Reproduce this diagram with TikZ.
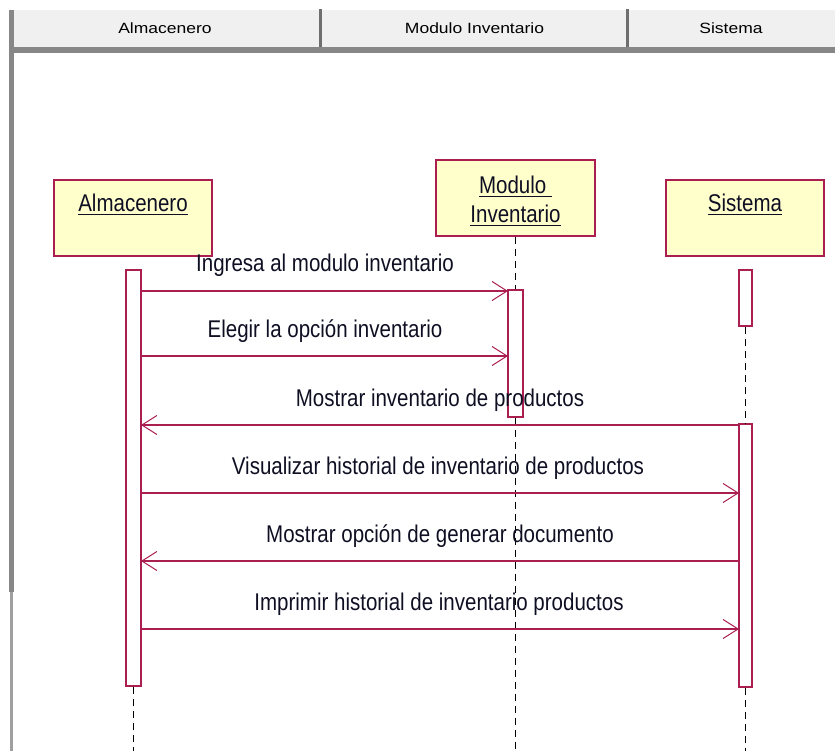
\documentclass[tikz,border=0pt]{standalone}
\usepackage{fontspec}
\setmainfont{Liberation Sans}
\usepackage{graphicx}
\usetikzlibrary{arrows.meta}
\definecolor{umlred}{RGB}{170,30,80}
\definecolor{umlfill}{RGB}{255,255,204}
\definecolor{txt}{RGB}{15,15,35}
\definecolor{hdrfill}{RGB}{240,240,240}
\definecolor{hdrline}{RGB}{135,135,135}
\definecolor{hdrdiv}{RGB}{110,110,110}
\newcommand\talltext[1]{\scalebox{1}[1.18]{#1}}
\newcommand\flattext[1]{\scalebox{1}[0.85]{#1}}
\begin{document}
\begin{tikzpicture}[x=1pt,y=-1pt,
  actor/.style={draw=umlred, line width=1.6pt, fill=umlfill, inner sep=0pt, minimum width=158pt, minimum height=76pt},
  actbar/.style={draw=umlred, line width=1.6pt, fill=white, inner sep=0pt, minimum width=14pt},
  life/.style={black, line width=1.8pt, dash pattern=on 7pt off 5pt},
  msg/.style={umlred, line width=1.4pt, -{Straight Barb[length=15pt,width=19pt,line width=1pt]}},
  lbl/.style={anchor=base, text=txt, font=\fontsize{20.5}{24}\selectfont, inner sep=0pt},
  hdr/.style={anchor=base, text=black, font=\fontsize{17.5}{20}\selectfont, inner sep=0pt}]
\useasboundingbox[fill=white] (0,0) rectangle (835,751);

% header / frame
\fill[hdrfill] (10,10) rectangle (835,47);
\fill[hdrline] (10,47) rectangle (835,53);
\fill[hdrline] (9,10) rectangle (14,592);
\fill[hdrline!80] (10,592) rectangle (13,751);
\fill[hdrdiv] (319,9) rectangle (322,47);
\fill[hdrdiv] (626,9) rectangle (629,47);
\node[hdr] (h1) at (165,34) {\flattext{Almacenero}};
\node[hdr] (h2) at (474.5,34) {\flattext{Modulo Inventario}};
\node[hdr] (h3) at (731,34) {\flattext{Sistema}};

% actors
\node[actor] (almA) at (133,218) {};
\node[actor, minimum width=159pt] (modA) at (515.5,198) {};
\node[actor] (sisA) at (745,218) {};
\node[lbl] (almT) at (133,212) {\talltext{\underline{Almacenero}}};
\node[lbl] (modT1) at (515.5,194) {\talltext{\underline{Modulo~}}};
\node[lbl] (modT2) at (515.5,223) {\talltext{\underline{Inventario}}};
\node[lbl] (sisT) at (745,212) {\talltext{\underline{Sistema}}};

% lifeline ends
\coordinate (almEnd) at (133.5,751);
\coordinate (modEnd) at (515.5,751);
\coordinate (sisEnd) at (745.5,751);

% activation bars
\node[actbar, minimum width=15pt, minimum height=416pt] (almB) at (133.5,478) {};
\node[actbar, minimum width=15pt, minimum height=127pt] (modB) at (515.5,353.5) {};
\node[actbar, minimum width=13pt, minimum height=56pt] (sisB1) at (745.5,298) {};
\node[actbar, minimum width=13pt, minimum height=263pt] (sisB2) at (745.5,555.5) {};

% lifelines
\draw[life] (almB.south) -- (almEnd);
\draw[life] (modA.south) -- (modB.north);
\draw[life] (modB.south) -- (modEnd);
\draw[life] (sisB1.south) -- (sisB2.north);
\draw[life] (sisB2.south) -- (sisEnd);

% message anchor points
\coordinate (m1a) at (141,291);  \coordinate (m1b) at (508,291);
\coordinate (m2a) at (141,356);  \coordinate (m2b) at (508,356);
\coordinate (m3a) at (739,425);  \coordinate (m3b) at (141,425);
\coordinate (m4a) at (141,493);  \coordinate (m4b) at (739,493);
\coordinate (m5a) at (739,561);  \coordinate (m5b) at (141,561);
\coordinate (m6a) at (141,629);  \coordinate (m6b) at (739,629);

\draw[msg] (m1a) -- (m1b);
\draw[msg] (m2a) -- (m2b);
\draw[msg] (m3a) -- (m3b);
\draw[msg] (m4a) -- (m4b);
\draw[msg] (m5a) -- (m5b);
\draw[msg] (m6a) -- (m6b);

\node[lbl] (l1) at (325,272) {\talltext{Ingresa al modulo inventario}};
\node[lbl] (l2) at (325,337) {\talltext{Elegir la opción inventario}};
\node[lbl] (l3) at (440,406) {\talltext{Mostrar inventario de productos}};
\node[lbl] (l4) at (438,474) {\talltext{Visualizar historial de inventario de productos}};
\node[lbl] (l5) at (440,542) {\talltext{Mostrar opción de generar documento}};
\node[lbl] (l6) at (439,610) {\talltext{Imprimir historial de inventario productos}};
\end{tikzpicture}
\end{document}
